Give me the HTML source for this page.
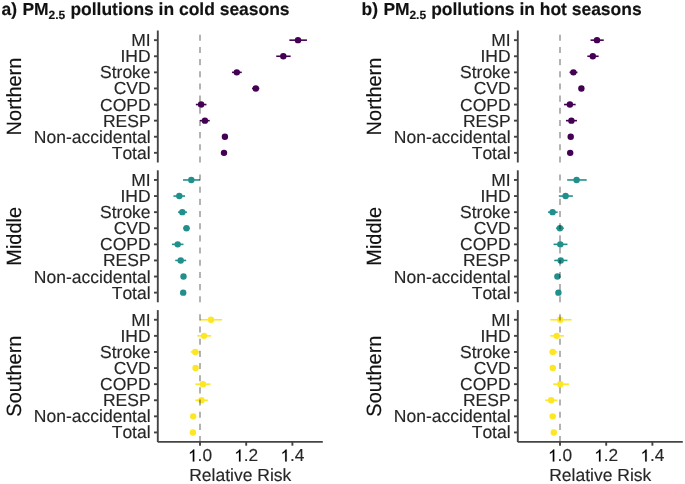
<!DOCTYPE html>
<html><head><meta charset="utf-8"><style>
html,body{margin:0;padding:0;background:#fff;width:685px;height:484px;overflow:hidden}
svg{display:block;filter:blur(0.3px);font-family:"Liberation Sans",sans-serif;fill:#000;will-change:transform;text-rendering:geometricPrecision;font-kerning:none;font-feature-settings:"kern" 0}
text{fill:#262626;stroke:#262626;stroke-width:0.15px}
</style></head><body>
<svg width="685" height="484" viewBox="0 0 685 484">
<text y="15.4" font-weight="bold" font-size="17.47" style="fill:#111;stroke:#111"><tspan x="1.6">a)</tspan><tspan x="22.4">PM</tspan><tspan x="48.6" y="18.5" font-size="12.0">2.5</tspan><tspan x="70.4" y="15.4">pollutions in cold seasons</tspan></text>
<text transform="translate(21,96.5) rotate(-90) scale(1,1.03)" text-anchor="middle" font-size="20.0" style="fill:#111;stroke:#111">Northern</text>
<line x1="157.8" y1="30.5" x2="157.8" y2="162.5" stroke="#444444" stroke-width="1.9"/>
<line x1="154" y1="40.16" x2="157.8" y2="40.16" stroke="#444444" stroke-width="1.9"/>
<text x="150.6" y="46.18" text-anchor="end" font-size="17.5">MI</text>
<line x1="289.35" y1="40.16" x2="306.95" y2="40.16" stroke="#440154" stroke-width="1.6"/>
<circle cx="298" cy="40.16" r="3.2" fill="#440154"/>
<line x1="154" y1="56.26" x2="157.8" y2="56.26" stroke="#444444" stroke-width="1.9"/>
<text x="150.6" y="62.28" text-anchor="end" font-size="17.5">IHD</text>
<line x1="276.25" y1="56.26" x2="290.65" y2="56.26" stroke="#440154" stroke-width="1.6"/>
<circle cx="283.3" cy="56.26" r="3.2" fill="#440154"/>
<line x1="154" y1="72.35" x2="157.8" y2="72.35" stroke="#444444" stroke-width="1.9"/>
<text x="150.6" y="78.37" text-anchor="end" font-size="17.5">Stroke</text>
<line x1="232.05" y1="72.35" x2="241.75" y2="72.35" stroke="#440154" stroke-width="1.6"/>
<circle cx="236.8" cy="72.35" r="3.2" fill="#440154"/>
<line x1="154" y1="88.45" x2="157.8" y2="88.45" stroke="#444444" stroke-width="1.9"/>
<text x="150.6" y="94.47" text-anchor="end" font-size="17.5">CVD</text>
<line x1="252.05" y1="88.45" x2="259.35" y2="88.45" stroke="#440154" stroke-width="1.6"/>
<circle cx="255.8" cy="88.45" r="3.2" fill="#440154"/>
<line x1="154" y1="104.55" x2="157.8" y2="104.55" stroke="#444444" stroke-width="1.9"/>
<text x="150.6" y="110.57" text-anchor="end" font-size="17.5">COPD</text>
<line x1="195.85" y1="104.55" x2="206.45" y2="104.55" stroke="#440154" stroke-width="1.6"/>
<circle cx="201.1" cy="104.55" r="3.2" fill="#440154"/>
<line x1="154" y1="120.65" x2="157.8" y2="120.65" stroke="#444444" stroke-width="1.9"/>
<text x="150.6" y="126.67" text-anchor="end" font-size="17.5">RESP</text>
<line x1="199.95" y1="120.65" x2="209.75" y2="120.65" stroke="#440154" stroke-width="1.6"/>
<circle cx="204.9" cy="120.65" r="3.2" fill="#440154"/>
<line x1="154" y1="136.74" x2="157.8" y2="136.74" stroke="#444444" stroke-width="1.9"/>
<text x="150.6" y="142.76" text-anchor="end" font-size="17.5">Non-accidental</text>
<circle cx="224.9" cy="136.74" r="3.2" fill="#440154"/>
<line x1="154" y1="152.84" x2="157.8" y2="152.84" stroke="#444444" stroke-width="1.9"/>
<text x="150.6" y="158.86" text-anchor="end" font-size="17.5">Total</text>
<circle cx="224" cy="152.84" r="3.2" fill="#440154"/>
<line x1="200" y1="162.5" x2="200" y2="30.5" stroke="#000000" stroke-opacity="0.46" stroke-width="1.3" stroke-dasharray="6.08 6.09"/>
<text transform="translate(21,236.3) rotate(-90) scale(1,1.03)" text-anchor="middle" font-size="20.0" style="fill:#111;stroke:#111">Middle</text>
<line x1="157.8" y1="170.3" x2="157.8" y2="302.3" stroke="#444444" stroke-width="1.9"/>
<line x1="154" y1="179.96" x2="157.8" y2="179.96" stroke="#444444" stroke-width="1.9"/>
<text x="150.6" y="185.98" text-anchor="end" font-size="17.5">MI</text>
<line x1="183.05" y1="179.96" x2="199.95" y2="179.96" stroke="#21908C" stroke-width="1.6"/>
<circle cx="191.3" cy="179.96" r="3.2" fill="#21908C"/>
<line x1="154" y1="196.06" x2="157.8" y2="196.06" stroke="#444444" stroke-width="1.9"/>
<text x="150.6" y="202.08" text-anchor="end" font-size="17.5">IHD</text>
<line x1="173.45" y1="196.06" x2="185.05" y2="196.06" stroke="#21908C" stroke-width="1.6"/>
<circle cx="179.3" cy="196.06" r="3.2" fill="#21908C"/>
<line x1="154" y1="212.15" x2="157.8" y2="212.15" stroke="#444444" stroke-width="1.9"/>
<text x="150.6" y="218.17" text-anchor="end" font-size="17.5">Stroke</text>
<line x1="178.05" y1="212.15" x2="186.95" y2="212.15" stroke="#21908C" stroke-width="1.6"/>
<circle cx="182.3" cy="212.15" r="3.2" fill="#21908C"/>
<line x1="154" y1="228.25" x2="157.8" y2="228.25" stroke="#444444" stroke-width="1.9"/>
<text x="150.6" y="234.27" text-anchor="end" font-size="17.5">CVD</text>
<line x1="183.25" y1="228.25" x2="189.75" y2="228.25" stroke="#21908C" stroke-width="1.6"/>
<circle cx="186.5" cy="228.25" r="3.2" fill="#21908C"/>
<line x1="154" y1="244.35" x2="157.8" y2="244.35" stroke="#444444" stroke-width="1.9"/>
<text x="150.6" y="250.37" text-anchor="end" font-size="17.5">COPD</text>
<line x1="171.95" y1="244.35" x2="183.45" y2="244.35" stroke="#21908C" stroke-width="1.6"/>
<circle cx="177.7" cy="244.35" r="3.2" fill="#21908C"/>
<line x1="154" y1="260.45" x2="157.8" y2="260.45" stroke="#444444" stroke-width="1.9"/>
<text x="150.6" y="266.47" text-anchor="end" font-size="17.5">RESP</text>
<line x1="175.25" y1="260.45" x2="186.15" y2="260.45" stroke="#21908C" stroke-width="1.6"/>
<circle cx="180.7" cy="260.45" r="3.2" fill="#21908C"/>
<line x1="154" y1="276.54" x2="157.8" y2="276.54" stroke="#444444" stroke-width="1.9"/>
<text x="150.6" y="282.56" text-anchor="end" font-size="17.5">Non-accidental</text>
<circle cx="183.5" cy="276.54" r="3.2" fill="#21908C"/>
<line x1="154" y1="292.64" x2="157.8" y2="292.64" stroke="#444444" stroke-width="1.9"/>
<text x="150.6" y="298.66" text-anchor="end" font-size="17.5">Total</text>
<circle cx="183.2" cy="292.64" r="3.2" fill="#21908C"/>
<line x1="200" y1="302.3" x2="200" y2="170.3" stroke="#000000" stroke-opacity="0.46" stroke-width="1.3" stroke-dasharray="6.08 6.09"/>
<text transform="translate(21,376.1) rotate(-90) scale(1,1.03)" text-anchor="middle" font-size="20.0" style="fill:#111;stroke:#111">Southern</text>
<line x1="157.8" y1="310.1" x2="157.8" y2="442.1" stroke="#444444" stroke-width="1.9"/>
<line x1="154" y1="319.76" x2="157.8" y2="319.76" stroke="#444444" stroke-width="1.9"/>
<text x="150.6" y="325.78" text-anchor="end" font-size="17.5">MI</text>
<line x1="199.75" y1="319.76" x2="222.05" y2="319.76" stroke="#FDE725" stroke-width="1.6"/>
<circle cx="211" cy="319.76" r="3.2" fill="#FDE725"/>
<line x1="154" y1="335.86" x2="157.8" y2="335.86" stroke="#444444" stroke-width="1.9"/>
<text x="150.6" y="341.88" text-anchor="end" font-size="17.5">IHD</text>
<line x1="197.25" y1="335.86" x2="211.15" y2="335.86" stroke="#FDE725" stroke-width="1.6"/>
<circle cx="204" cy="335.86" r="3.2" fill="#FDE725"/>
<line x1="154" y1="351.95" x2="157.8" y2="351.95" stroke="#444444" stroke-width="1.9"/>
<text x="150.6" y="357.97" text-anchor="end" font-size="17.5">Stroke</text>
<line x1="190.75" y1="351.95" x2="199.65" y2="351.95" stroke="#FDE725" stroke-width="1.6"/>
<circle cx="195.3" cy="351.95" r="3.2" fill="#FDE725"/>
<line x1="154" y1="368.05" x2="157.8" y2="368.05" stroke="#444444" stroke-width="1.9"/>
<text x="150.6" y="374.07" text-anchor="end" font-size="17.5">CVD</text>
<circle cx="195.6" cy="368.05" r="3.2" fill="#FDE725"/>
<line x1="154" y1="384.15" x2="157.8" y2="384.15" stroke="#444444" stroke-width="1.9"/>
<text x="150.6" y="390.17" text-anchor="end" font-size="17.5">COPD</text>
<line x1="195.35" y1="384.15" x2="210.45" y2="384.15" stroke="#FDE725" stroke-width="1.6"/>
<circle cx="202.9" cy="384.15" r="3.2" fill="#FDE725"/>
<line x1="154" y1="400.25" x2="157.8" y2="400.25" stroke="#444444" stroke-width="1.9"/>
<text x="150.6" y="406.27" text-anchor="end" font-size="17.5">RESP</text>
<line x1="195.35" y1="400.25" x2="207.85" y2="400.25" stroke="#FDE725" stroke-width="1.6"/>
<circle cx="201.5" cy="400.25" r="3.2" fill="#FDE725"/>
<line x1="154" y1="416.34" x2="157.8" y2="416.34" stroke="#444444" stroke-width="1.9"/>
<text x="150.6" y="422.36" text-anchor="end" font-size="17.5">Non-accidental</text>
<circle cx="193.2" cy="416.34" r="3.2" fill="#FDE725"/>
<line x1="154" y1="432.44" x2="157.8" y2="432.44" stroke="#444444" stroke-width="1.9"/>
<text x="150.6" y="438.46" text-anchor="end" font-size="17.5">Total</text>
<circle cx="192.9" cy="432.44" r="3.2" fill="#FDE725"/>
<line x1="200" y1="442.1" x2="200" y2="310.1" stroke="#000000" stroke-opacity="0.46" stroke-width="1.3" stroke-dasharray="6.08 6.09"/>
<line x1="157.8" y1="441.9" x2="322.8" y2="441.9" stroke="#444444" stroke-width="1.9"/>
<line x1="200" y1="441.9" x2="200" y2="445.7" stroke="#444444" stroke-width="1.9"/>
<path transform="translate(187.98,461.4) scale(0.00845,-0.00845)" d="M748 0L568 0L568 1100Q503 1040 400 980Q300 920 230 895L230 1060Q370 1130 470 1225Q570 1320 615 1409L748 1409Z" stroke="#000" stroke-width="17.76"/>
<text x="197.6" y="461.4" font-size="17.3">.0</text>
<line x1="246.2" y1="441.9" x2="246.2" y2="445.7" stroke="#444444" stroke-width="1.9"/>
<path transform="translate(234.18,461.4) scale(0.00845,-0.00845)" d="M748 0L568 0L568 1100Q503 1040 400 980Q300 920 230 895L230 1060Q370 1130 470 1225Q570 1320 615 1409L748 1409Z" stroke="#000" stroke-width="17.76"/>
<text x="243.8" y="461.4" font-size="17.3">.2</text>
<line x1="292.4" y1="441.9" x2="292.4" y2="445.7" stroke="#444444" stroke-width="1.9"/>
<path transform="translate(280.38,461.4) scale(0.00845,-0.00845)" d="M748 0L568 0L568 1100Q503 1040 400 980Q300 920 230 895L230 1060Q370 1130 470 1225Q570 1320 615 1409L748 1409Z" stroke="#000" stroke-width="17.76"/>
<text x="290" y="461.4" font-size="17.3">.4</text>
<text x="240.3" y="480.8" text-anchor="middle" font-size="17.5">Relative Risk</text>
<text y="15.4" font-weight="bold" font-size="17.47" style="fill:#111;stroke:#111"><tspan x="361.5">b)</tspan><tspan x="383.4">PM</tspan><tspan x="409.4" y="18.5" font-size="12.0">2.5</tspan><tspan x="431.2" y="15.4">pollutions in hot seasons</tspan></text>
<text transform="translate(381,96.5) rotate(-90) scale(1,1.03)" text-anchor="middle" font-size="20.0" style="fill:#111;stroke:#111">Northern</text>
<line x1="517.8" y1="30.5" x2="517.8" y2="162.5" stroke="#444444" stroke-width="1.9"/>
<line x1="514" y1="40.16" x2="517.8" y2="40.16" stroke="#444444" stroke-width="1.9"/>
<text x="510.6" y="46.18" text-anchor="end" font-size="17.5">MI</text>
<line x1="590.55" y1="40.16" x2="603.75" y2="40.16" stroke="#440154" stroke-width="1.6"/>
<circle cx="597" cy="40.16" r="3.2" fill="#440154"/>
<line x1="514" y1="56.26" x2="517.8" y2="56.26" stroke="#444444" stroke-width="1.9"/>
<text x="510.6" y="62.28" text-anchor="end" font-size="17.5">IHD</text>
<line x1="587.35" y1="56.26" x2="598.65" y2="56.26" stroke="#440154" stroke-width="1.6"/>
<circle cx="592.8" cy="56.26" r="3.2" fill="#440154"/>
<line x1="514" y1="72.35" x2="517.8" y2="72.35" stroke="#444444" stroke-width="1.9"/>
<text x="510.6" y="78.37" text-anchor="end" font-size="17.5">Stroke</text>
<line x1="569.55" y1="72.35" x2="577.45" y2="72.35" stroke="#440154" stroke-width="1.6"/>
<circle cx="573.4" cy="72.35" r="3.2" fill="#440154"/>
<line x1="514" y1="88.45" x2="517.8" y2="88.45" stroke="#444444" stroke-width="1.9"/>
<text x="510.6" y="94.47" text-anchor="end" font-size="17.5">CVD</text>
<circle cx="581.4" cy="88.45" r="3.2" fill="#440154"/>
<line x1="514" y1="104.55" x2="517.8" y2="104.55" stroke="#444444" stroke-width="1.9"/>
<text x="510.6" y="110.57" text-anchor="end" font-size="17.5">COPD</text>
<line x1="564.05" y1="104.55" x2="575.65" y2="104.55" stroke="#440154" stroke-width="1.6"/>
<circle cx="569.9" cy="104.55" r="3.2" fill="#440154"/>
<line x1="514" y1="120.65" x2="517.8" y2="120.65" stroke="#444444" stroke-width="1.9"/>
<text x="510.6" y="126.67" text-anchor="end" font-size="17.5">RESP</text>
<line x1="565.95" y1="120.65" x2="576.95" y2="120.65" stroke="#440154" stroke-width="1.6"/>
<circle cx="571.4" cy="120.65" r="3.2" fill="#440154"/>
<line x1="514" y1="136.74" x2="517.8" y2="136.74" stroke="#444444" stroke-width="1.9"/>
<text x="510.6" y="142.76" text-anchor="end" font-size="17.5">Non-accidental</text>
<circle cx="570.7" cy="136.74" r="3.2" fill="#440154"/>
<line x1="514" y1="152.84" x2="517.8" y2="152.84" stroke="#444444" stroke-width="1.9"/>
<text x="510.6" y="158.86" text-anchor="end" font-size="17.5">Total</text>
<circle cx="570.2" cy="152.84" r="3.2" fill="#440154"/>
<line x1="560" y1="162.5" x2="560" y2="30.5" stroke="#000000" stroke-opacity="0.46" stroke-width="1.3" stroke-dasharray="6.08 6.09"/>
<text transform="translate(381,236.3) rotate(-90) scale(1,1.03)" text-anchor="middle" font-size="20.0" style="fill:#111;stroke:#111">Middle</text>
<line x1="517.8" y1="170.3" x2="517.8" y2="302.3" stroke="#444444" stroke-width="1.9"/>
<line x1="514" y1="179.96" x2="517.8" y2="179.96" stroke="#444444" stroke-width="1.9"/>
<text x="510.6" y="185.98" text-anchor="end" font-size="17.5">MI</text>
<line x1="567.15" y1="179.96" x2="586.65" y2="179.96" stroke="#21908C" stroke-width="1.6"/>
<circle cx="576.6" cy="179.96" r="3.2" fill="#21908C"/>
<line x1="514" y1="196.06" x2="517.8" y2="196.06" stroke="#444444" stroke-width="1.9"/>
<text x="510.6" y="202.08" text-anchor="end" font-size="17.5">IHD</text>
<line x1="558.85" y1="196.06" x2="572.85" y2="196.06" stroke="#21908C" stroke-width="1.6"/>
<circle cx="565.6" cy="196.06" r="3.2" fill="#21908C"/>
<line x1="514" y1="212.15" x2="517.8" y2="212.15" stroke="#444444" stroke-width="1.9"/>
<text x="510.6" y="218.17" text-anchor="end" font-size="17.5">Stroke</text>
<line x1="548.05" y1="212.15" x2="557.65" y2="212.15" stroke="#21908C" stroke-width="1.6"/>
<circle cx="552.6" cy="212.15" r="3.2" fill="#21908C"/>
<line x1="514" y1="228.25" x2="517.8" y2="228.25" stroke="#444444" stroke-width="1.9"/>
<text x="510.6" y="234.27" text-anchor="end" font-size="17.5">CVD</text>
<line x1="556.05" y1="228.25" x2="563.85" y2="228.25" stroke="#21908C" stroke-width="1.6"/>
<circle cx="559.9" cy="228.25" r="3.2" fill="#21908C"/>
<line x1="514" y1="244.35" x2="517.8" y2="244.35" stroke="#444444" stroke-width="1.9"/>
<text x="510.6" y="250.37" text-anchor="end" font-size="17.5">COPD</text>
<line x1="553.55" y1="244.35" x2="567.45" y2="244.35" stroke="#21908C" stroke-width="1.6"/>
<circle cx="560.3" cy="244.35" r="3.2" fill="#21908C"/>
<line x1="514" y1="260.45" x2="517.8" y2="260.45" stroke="#444444" stroke-width="1.9"/>
<text x="510.6" y="266.47" text-anchor="end" font-size="17.5">RESP</text>
<line x1="554.25" y1="260.45" x2="567.45" y2="260.45" stroke="#21908C" stroke-width="1.6"/>
<circle cx="560.7" cy="260.45" r="3.2" fill="#21908C"/>
<line x1="514" y1="276.54" x2="517.8" y2="276.54" stroke="#444444" stroke-width="1.9"/>
<text x="510.6" y="282.56" text-anchor="end" font-size="17.5">Non-accidental</text>
<circle cx="557.4" cy="276.54" r="3.2" fill="#21908C"/>
<line x1="514" y1="292.64" x2="517.8" y2="292.64" stroke="#444444" stroke-width="1.9"/>
<text x="510.6" y="298.66" text-anchor="end" font-size="17.5">Total</text>
<circle cx="558.4" cy="292.64" r="3.2" fill="#21908C"/>
<line x1="560" y1="302.3" x2="560" y2="170.3" stroke="#000000" stroke-opacity="0.46" stroke-width="1.3" stroke-dasharray="6.08 6.09"/>
<text transform="translate(381,376.1) rotate(-90) scale(1,1.03)" text-anchor="middle" font-size="20.0" style="fill:#111;stroke:#111">Southern</text>
<line x1="517.8" y1="310.1" x2="517.8" y2="442.1" stroke="#444444" stroke-width="1.9"/>
<line x1="514" y1="319.76" x2="517.8" y2="319.76" stroke="#444444" stroke-width="1.9"/>
<text x="510.6" y="325.78" text-anchor="end" font-size="17.5">MI</text>
<line x1="550.25" y1="319.76" x2="571.55" y2="319.76" stroke="#FDE725" stroke-width="1.6"/>
<circle cx="560.3" cy="319.76" r="3.2" fill="#FDE725"/>
<line x1="514" y1="335.86" x2="517.8" y2="335.86" stroke="#444444" stroke-width="1.9"/>
<text x="510.6" y="341.88" text-anchor="end" font-size="17.5">IHD</text>
<line x1="550.25" y1="335.86" x2="563.95" y2="335.86" stroke="#FDE725" stroke-width="1.6"/>
<circle cx="556.7" cy="335.86" r="3.2" fill="#FDE725"/>
<line x1="514" y1="351.95" x2="517.8" y2="351.95" stroke="#444444" stroke-width="1.9"/>
<text x="510.6" y="357.97" text-anchor="end" font-size="17.5">Stroke</text>
<line x1="549.25" y1="351.95" x2="557.45" y2="351.95" stroke="#FDE725" stroke-width="1.6"/>
<circle cx="552.8" cy="351.95" r="3.2" fill="#FDE725"/>
<line x1="514" y1="368.05" x2="517.8" y2="368.05" stroke="#444444" stroke-width="1.9"/>
<text x="510.6" y="374.07" text-anchor="end" font-size="17.5">CVD</text>
<circle cx="552.8" cy="368.05" r="3.2" fill="#FDE725"/>
<line x1="514" y1="384.15" x2="517.8" y2="384.15" stroke="#444444" stroke-width="1.9"/>
<text x="510.6" y="390.17" text-anchor="end" font-size="17.5">COPD</text>
<line x1="553.15" y1="384.15" x2="568.95" y2="384.15" stroke="#FDE725" stroke-width="1.6"/>
<circle cx="560.3" cy="384.15" r="3.2" fill="#FDE725"/>
<line x1="514" y1="400.25" x2="517.8" y2="400.25" stroke="#444444" stroke-width="1.9"/>
<text x="510.6" y="406.27" text-anchor="end" font-size="17.5">RESP</text>
<line x1="545.25" y1="400.25" x2="557.45" y2="400.25" stroke="#FDE725" stroke-width="1.6"/>
<circle cx="551.2" cy="400.25" r="3.2" fill="#FDE725"/>
<line x1="514" y1="416.34" x2="517.8" y2="416.34" stroke="#444444" stroke-width="1.9"/>
<text x="510.6" y="422.36" text-anchor="end" font-size="17.5">Non-accidental</text>
<circle cx="552.7" cy="416.34" r="3.2" fill="#FDE725"/>
<line x1="514" y1="432.44" x2="517.8" y2="432.44" stroke="#444444" stroke-width="1.9"/>
<text x="510.6" y="438.46" text-anchor="end" font-size="17.5">Total</text>
<circle cx="553.8" cy="432.44" r="3.2" fill="#FDE725"/>
<line x1="560" y1="442.1" x2="560" y2="310.1" stroke="#000000" stroke-opacity="0.46" stroke-width="1.3" stroke-dasharray="6.08 6.09"/>
<line x1="517.8" y1="441.9" x2="682.8" y2="441.9" stroke="#444444" stroke-width="1.9"/>
<line x1="560" y1="441.9" x2="560" y2="445.7" stroke="#444444" stroke-width="1.9"/>
<path transform="translate(547.98,461.4) scale(0.00845,-0.00845)" d="M748 0L568 0L568 1100Q503 1040 400 980Q300 920 230 895L230 1060Q370 1130 470 1225Q570 1320 615 1409L748 1409Z" stroke="#000" stroke-width="17.76"/>
<text x="557.6" y="461.4" font-size="17.3">.0</text>
<line x1="606.2" y1="441.9" x2="606.2" y2="445.7" stroke="#444444" stroke-width="1.9"/>
<path transform="translate(594.18,461.4) scale(0.00845,-0.00845)" d="M748 0L568 0L568 1100Q503 1040 400 980Q300 920 230 895L230 1060Q370 1130 470 1225Q570 1320 615 1409L748 1409Z" stroke="#000" stroke-width="17.76"/>
<text x="603.8" y="461.4" font-size="17.3">.2</text>
<line x1="652.4" y1="441.9" x2="652.4" y2="445.7" stroke="#444444" stroke-width="1.9"/>
<path transform="translate(640.38,461.4) scale(0.00845,-0.00845)" d="M748 0L568 0L568 1100Q503 1040 400 980Q300 920 230 895L230 1060Q370 1130 470 1225Q570 1320 615 1409L748 1409Z" stroke="#000" stroke-width="17.76"/>
<text x="650" y="461.4" font-size="17.3">.4</text>
<text x="600.3" y="480.8" text-anchor="middle" font-size="17.5">Relative Risk</text>
</svg>
</body></html>
